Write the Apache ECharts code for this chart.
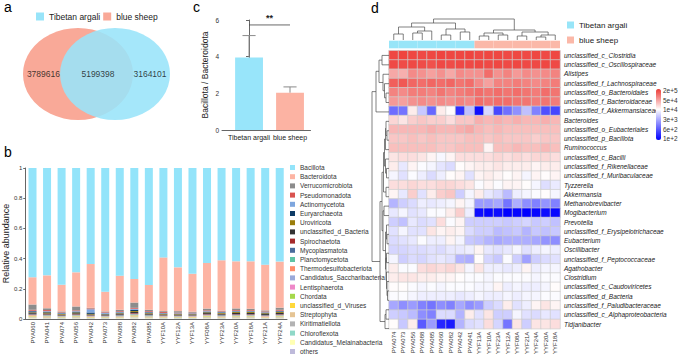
<!DOCTYPE html>
<html><head><meta charset="utf-8">
<script src="https://cdn.jsdelivr.net/npm/echarts@6/dist/echarts.min.js"></script>
<style>html,body{margin:0;padding:0;background:#fff}#c{width:682px;height:357px}</style>
</head><body><div id="c"></div>
<script>
const FONT = '"Liberation Sans", Arial, sans-serif';

// ---------- a: Venn ----------
const vennGroups = ['Tibetan argali', 'blue sheep'];
const vennColors = ['#98E4F9', '#F9A998'];
const vennCounts = [3789616, 5199398, 3164101]; // blue sheep only, shared, Tibetan argali only

// ---------- b: stacked relative abundance ----------
const samplesB = ['PYA060','PYA041','PYA074','PYA056','PYA042','PYA073','PYA088','PYA082','PYA085',
                  'YYF10A','YYF12A','YYF13A','YYF08A','YYF23A','YYF20A','YYF18A','YYF21A','YYF24A'];
const phyla = ['Bacillota','Bacteroidota','Verrucomicrobiota','Pseudomonadota','Actinomycetota','Euryarchaeota',
  'Uroviricota','unclassified_d_Bacteria','Spirochaetota','Mycoplasmatota','Planctomycetota','Thermodesulfobacteriota',
  'Candidatus_Saccharibacteria','Lentisphaerota','Chordata','unclassified_d_Viruses','Streptophyta','Kiritimatiellota',
  'Chloroflexota','Candidatus_Melainabacteria','others'];
const phylaColors = ['#93E4FA','#FDB4A3','#8C8C8C','#D9534F','#7EA6DE','#0D3B66','#9A7D0A','#333333','#A52A2A',
  '#4A6C9B','#5EC4A5','#FF8C69','#9AA9D9','#EE88C8','#A5D84B','#FFD83A','#E5C494','#B3B3B3','#8FD8C8','#FFFFB3','#BEBADA'];
const Bacillota        = [.724,.711,.773,.691,.636,.819,.713,.735,.775,.592,.658,.700,.629,.611,.618,.618,.640,.620];
const Bacteroidota     = [.180,.218,.177,.226,.290,.131,.226,.156,.164,.356,.290,.252,.302,.334,.312,.314,.303,.305];
const Verrucomicrobiota= [.035,.012,.006,.026,.004,.005,.009,.035,.008,.006,.010,.006,.012,.004,.011,.009,.007,.014];
const Pseudomonadota   = [.006,.007,.004,.005,.005,.004,.005,.006,.005,.006,.004,.004,.005,.004,.005,.005,.005,.006];
const Actinomycetota   = [.004,.004,.003,.004,.022,.006,.004,.007,.004,.003,.003,.003,.004,.003,.004,.004,.003,.004];
const Euryarchaeota    = [.006,.005,.004,.005,.009,.004,.005,.008,.005,.003,.003,.003,.004,.004,.004,.004,.004,.005];
const Uroviricota      = [.004,.006,.004,.005,.004,.003,.004,.006,.004,.004,.004,.003,.005,.005,.006,.006,.005,.006];
const unclassified_d_Bacteria = [.006,.006,.005,.006,.005,.004,.005,.007,.006,.005,.004,.004,.006,.006,.007,.007,.006,.007];
const Spirochaetota    = [.003,.003,.002,.003,.002,.002,.003,.004,.002,.002,.002,.002,.003,.003,.003,.003,.002,.003];
const Mycoplasmatota   = [.004,.003,.002,.003,.002,.002,.003,.004,.003,.002,.002,.002,.003,.003,.004,.004,.003,.004];
const Planctomycetota  = [.002,.002,.002,.002,.002,.002,.002,.002,.002,.002,.002,.002,.002,.002,.002,.002,.002,.002];
const Thermodesulfobacteriota = [.002,.002,.002,.002,.002,.002,.002,.002,.002,.002,.002,.002,.002,.002,.002,.002,.002,.002];
const Candidatus_Saccharibacteria = [.002,.002,.002,.002,.002,.002,.002,.002,.002,.002,.002,.002,.002,.002,.002,.002,.002,.002];
const Lentisphaerota   = [.001,.001,.001,.001,.001,.001,.001,.001,.001,.001,.001,.001,.001,.001,.001,.001,.001,.001];
const Chordata         = [.003,.002,.001,.002,.001,.001,.002,.003,.002,.001,.001,.001,.002,.002,.002,.002,.001,.002];
const unclassified_d_Viruses = [.002,.002,.001,.002,.002,.001,.002,.003,.002,.001,.001,.002,.002,.002,.002,.002,.002,.002];
const Streptophyta     = [.004,.005,.003,.004,.003,.003,.003,.005,.004,.004,.003,.003,.005,.003,.004,.004,.004,.004];
const Kiritimatiellota = [.003,.003,.002,.003,.002,.002,.002,.003,.002,.002,.002,.002,.003,.003,.003,.003,.002,.003];
const Chloroflexota    = [.001,.001,.001,.001,.001,.001,.001,.001,.001,.001,.001,.001,.001,.001,.001,.001,.001,.001];
const Candidatus_Melainabacteria = [.004,.002,.002,.003,.002,.002,.003,.006,.003,.002,.002,.002,.003,.002,.003,.003,.002,.003];
const others           = [.004,.003,.003,.004,.003,.003,.003,.004,.003,.003,.003,.003,.004,.003,.004,.004,.003,.004];
const phylumValues = [Bacillota,Bacteroidota,Verrucomicrobiota,Pseudomonadota,Actinomycetota,Euryarchaeota,Uroviricota,
  unclassified_d_Bacteria,Spirochaetota,Mycoplasmatota,Planctomycetota,Thermodesulfobacteriota,Candidatus_Saccharibacteria,
  Lentisphaerota,Chordata,unclassified_d_Viruses,Streptophyta,Kiritimatiellota,Chloroflexota,Candidatus_Melainabacteria,others];

// ---------- c: ratio ----------
const ratioGroups = ['Tibetan argali', 'blue sheep'];
const ratioColors = ['#98E5FA', '#FCB3A3'];
const ratioMean = [3.95, 2.03];
const ratioErr = [1.2, 0.32];
const sigText = '**';
const sigLevel = 5.73;

// ---------- d: heatmap ----------
const heatCols = ['PYA074','PYA073','PYA056','PYA088','PYA085','PYA060','PYA082','PYA042','PYA041',
                  'YYF13A','YYF10A','YYF23A','YYF12A','YYF08A','YYF21A','YYF24A','YYF20A','YYF18A'];
const colGroup = [0,0,0,0,0,0,0,0,0,1,1,1,1,1,1,1,1,1];
const annotColors = ['#98E5F8', '#FBB8A8'];
const heatRows = ['unclassified_c_Clostridia','unclassified_c_Oscillospiraceae','Alistipes','unclassified_f_Lachnospiraceae',
  'unclassified_o_Bacteroidales','unclassified_f_Bacteroidaceae','unclassified_f_Akkermansiaceae','Bacteroides',
  'unclassified_o_Eubacteriales','unclassified_p_Bacillota','Ruminococcus','unclassified_c_Bacilli',
  'unclassified_f_Rikenellaceae','unclassified_f_Muribaculaceae','Tyzzerella','Akkermansia','Methanobrevibacter',
  'Mogibacterium','Prevotella','unclassified_f_Erysipelotrichaceae','Eubacterium','Oscillibacter',
  'unclassified_f_Peptococcaceae','Agathobacter','Clostridium','unclassified_c_Caudoviricetes','unclassified_d_Bacteria',
  'unclassified_f_Paludibacteraceae','unclassified_c_Alphaproteobacteria','Tidjanibacter'];
// log10 abundance per row (columns in heatCols order)
const heatLog10 = [
 [5.22,5.24,5.22,5.2,5.22,5.24,5.22,5.22,5.24,5.2,5.22,5.22,5.2,5.22,5.2,5.22,5.2,5.22],
 [5.2,5.18,5.2,5.18,5.15,5.2,5.18,5.2,5.2,5.22,5.2,5.22,5.2,5.22,5.2,5.2,5.22,5.2],
 [4.55,4.5,4.75,4.7,4.6,4.7,4.55,4.75,4.7,4.7,4.95,4.7,4.8,4.65,4.75,4.7,4.75,4.8],
 [5.05,5.1,5.0,4.95,5.0,4.95,5.0,4.9,4.95,4.75,4.6,4.8,4.8,4.85,4.8,4.75,4.8,4.85],
 [4.8,4.75,4.85,4.85,4.8,4.9,4.8,4.85,4.9,4.95,4.9,4.95,4.9,4.95,4.9,4.85,4.95,4.9],
 [4.65,4.6,4.7,4.75,4.7,4.75,4.7,4.8,4.75,4.95,4.9,4.95,4.95,4.9,4.9,4.85,4.9,4.85],
 [2.85,2.9,4.1,3.55,2.8,4.1,4.0,2.37,3.5,2.12,3.68,2.56,2.87,3.12,3.49,3.0,2.62,2.54],
 [4.25,4.15,4.3,4.35,4.3,4.3,4.2,4.35,4.35,4.5,4.45,4.5,4.45,4.5,4.45,4.45,4.5,4.45],
 [4.45,4.45,4.45,4.45,4.5,4.45,4.45,4.5,4.55,4.45,4.4,4.45,4.4,4.4,4.4,4.4,4.4,4.4],
 [4.35,4.35,4.4,4.35,4.4,4.35,4.35,4.35,4.4,4.4,4.35,4.4,4.35,4.35,4.35,4.3,4.35,4.35],
 [4.4,4.4,4.4,4.4,4.4,4.35,4.35,4.4,4.4,4.4,4.05,4.4,4.4,4.45,4.4,4.4,4.45,4.4],
 [4.15,4.2,4.2,4.15,4.05,3.92,4.05,4.2,4.2,4.2,4.2,4.25,4.2,4.25,4.2,4.25,4.25,4.2],
 [4.1,3.8,4.05,3.95,3.9,3.78,3.7,4.0,4.05,4.1,4.1,4.15,4.1,4.1,4.1,4.05,4.1,4.1],
 [3.9,3.75,3.95,3.85,3.7,3.85,4.0,4.05,3.75,4.05,4.1,4.05,4.0,4.05,3.9,4.05,4.0,4.05],
 [4.2,4.2,4.25,4.2,4.2,4.25,4.25,4.2,4.15,3.95,4.05,3.95,4.05,4.05,4.0,3.9,3.72,3.82],
 [4.05,3.8,4.3,3.75,4.1,4.3,4.35,3.6,3.9,4.1,3.8,3.7,3.45,3.85,3.9,3.95,4.0,3.9],
 [3.4,3.6,3.7,3.85,3.8,3.85,3.9,4.05,3.9,3.2,3.2,3.3,2.9,3.35,3.1,3.0,3.15,3.0],
 [3.8,3.9,3.75,3.8,3.95,3.95,4.1,4.3,3.85,2.1,2.05,2.1,2.0,2.05,2.0,2.05,2.1,2.05],
 [3.6,3.5,3.8,3.7,3.75,4.2,3.95,4.05,3.6,3.6,3.6,3.6,3.55,3.6,3.65,3.55,3.6,3.5],
 [3.75,3.9,3.75,3.75,4.15,4.05,4.1,4.05,3.7,3.6,3.6,3.45,3.5,3.55,3.4,3.55,3.5,3.55],
 [3.7,3.75,3.8,3.95,3.85,3.85,4.05,3.9,3.55,3.5,3.4,3.3,3.35,3.35,3.35,3.3,3.15,3.1],
 [3.65,3.65,3.7,3.7,3.75,3.7,3.8,3.8,3.85,4.05,3.8,3.75,3.8,3.9,3.75,3.85,3.9,3.85],
 [3.9,3.6,3.7,3.65,3.75,3.8,3.75,3.4,3.35,4.0,3.65,3.55,3.95,3.6,3.25,3.6,3.7,3.75],
 [4.1,3.95,3.95,4.2,4.25,4.2,4.25,4.15,3.9,4.15,3.85,3.85,3.8,3.85,4.05,3.85,3.9,3.9],
 [4.1,4.15,4.15,4.1,4.1,4.05,4.05,4.0,3.95,3.95,3.9,3.95,3.95,3.95,3.95,3.9,3.95,3.95],
 [4.0,4.0,3.95,3.9,3.95,3.9,3.95,3.95,3.95,3.9,3.9,4.05,3.85,3.9,3.85,3.85,3.9,4.0],
 [3.95,3.95,3.9,3.85,3.85,3.85,3.85,3.8,3.85,3.9,3.85,3.85,3.9,3.85,3.9,3.9,3.95,3.95],
 [3.3,3.1,3.2,3.0,2.9,3.1,3.0,3.3,3.1,3.2,3.6,3.7,4.1,3.75,3.85,4.05,4.15,4.05],
 [3.6,3.55,3.45,3.1,3.0,3.7,3.7,3.4,4.1,3.75,4.15,3.6,3.6,3.9,3.75,3.7,3.8,3.75],
 [4.0,3.55,4.1,2.7,3.2,2.3,2.2,3.4,3.7,3.75,4.2,3.65,2.9,4.15,3.6,4.15,4.15,4.2]
];
const heatMin = 2, heatMax = 5.3;
const heatPalette = ['#0000FF','#5555FF','#AAAAFF','#FFFFFF','#F59A98','#EE3B36'];
const colorbarLabels = ['1e+2','6e+2','3e+3','1e+4','5e+4','2e+5'];
// hclust-style merges: negative = leaf (1-based), positive = earlier merge; third = height
const colMerge = [[-1,-2,6],[-3,-4,7],[2,-5,9],[1,3,13],[-6,-7,5],[-8,-9,8],[5,6,11],[4,7,17],
  [-10,-11,4],[-12,-13,5],[9,10,7],[-14,-15,4],[-16,-17,3],[13,-18,5],[12,14,8],[11,15,10],[8,16,21]];
const rowMerge = [[-1,-2,7],[-5,-6,3],[-4,2,4.5],[-3,3,6],[1,4,10],[5,-7,13],[-9,-10,2],[-8,7,3],[8,-11,3.5],
  [-13,-14,2.5],[-12,10,3.5],[9,11,4.5],[-15,-16,3],[12,13,5.5],[-17,-18,5],[-20,-21,2],[-19,16,2.5],[-22,-23,2.5],
  [-26,-27,1.5],[-25,19,2],[-24,20,2.5],[18,21,3],[17,22,3.5],[15,23,6],[14,24,7],[-28,-29,3],[26,-30,4],[25,27,9],[6,28,17]];

function dendroSegments(merge) {
  const pos = [], ht = [], segs = [];
  const get = v => v < 0 ? [(-v - 1) + 0.5, 0] : [pos[v - 1], ht[v - 1]];
  merge.forEach((m, i) => {
    const a = get(m[0]), b = get(m[1]);
    pos[i] = (a[0] + b[0]) / 2; ht[i] = m[2];
    segs.push([a[0], a[1], b[0], b[1], m[2]]);
  });
  return segs;
}

const chart = echarts.init(document.getElementById('c'), null, {renderer: 'svg', width: 682, height: 357});
const axisGrey = '#666';
const series = [];

// b series (bottom of stack first)
for (let k = phyla.length - 1; k >= 0; k--) {
  series.push({type: 'bar', name: phyla[k], stack: 'b', xAxisIndex: 0, yAxisIndex: 0, barWidth: 8,
    data: phylumValues[k], itemStyle: {color: phylaColors[k]}, emphasis: {disabled: true}});
}
// c bars + error bars
series.push({type: 'custom', name: 'ratio', xAxisIndex: 1, yAxisIndex: 1,
  data: ratioMean.map((m, i) => [i, m, ratioErr[i]]),
  renderItem: (p, api) => {
    const x = api.value(0), m = api.value(1), e = api.value(2);
    const base = api.coord([x, 0]), top = api.coord([x, m]), et = api.coord([x, m + e]);
    const w = api.size([0.68, 0])[0], cap = api.size([0.32, 0])[0];
    return {type: 'group', children: [
      {type: 'line', shape: {x1: top[0], y1: top[1], x2: et[0], y2: et[1]}, style: {stroke: '#8a8a8a', lineWidth: 1}},
      {type: 'line', shape: {x1: et[0] - cap / 2, y1: et[1], x2: et[0] + cap / 2, y2: et[1]}, style: {stroke: '#8a8a8a', lineWidth: 1}},
      {type: 'rect', shape: {x: base[0] - w / 2, y: top[1], width: w, height: base[1] - top[1]}, style: {fill: ratioColors[p.dataIndex]}}
    ]};
  }});
series.push({type: 'custom', name: 'sig', xAxisIndex: 1, yAxisIndex: 1, data: [[0, 1, sigLevel]],
  renderItem: (p, api) => {
    const a = api.coord([api.value(0), api.value(2)]), b = api.coord([api.value(1), api.value(2)]);
    return {type: 'group', children: [
      {type: 'line', shape: {x1: a[0], y1: a[1], x2: b[0], y2: b[1]}, style: {stroke: '#444', lineWidth: 0.8}},
      {type: 'text', style: {text: sigText, x: (a[0] + b[0]) / 2, y: a[1] - 2, textAlign: 'center', textVerticalAlign: 'bottom',
        fontSize: 9, fontWeight: 'bold', fill: '#222', fontFamily: FONT}}
    ]};
  }});
// a Venn ellipses
series.push({type: 'scatter', name: 'blue sheep', xAxisIndex: 2, yAxisIndex: 2, clip: false, data: [[0.374, 0.5]],
  symbol: 'circle', symbolSize: [110, 92], itemStyle: {color: vennColors[1], opacity: 1}, emphasis: {disabled: true}, silent: true});
series.push({type: 'scatter', name: 'Tibetan argali', xAxisIndex: 2, yAxisIndex: 2, clip: false, data: [[0.626, 0.5]],
  symbol: 'circle', symbolSize: [110, 92], itemStyle: {color: vennColors[0], opacity: 0.88}, emphasis: {disabled: true}, silent: true});
series.push({type: 'scatter', name: 'counts', xAxisIndex: 2, yAxisIndex: 2, clip: false, symbolSize: 0,
  data: [[0.139, 0.5, vennCounts[0]], [0.51, 0.5, vennCounts[1]], [0.864, 0.5, vennCounts[2]]],
  label: {show: true, position: 'inside', formatter: p => String(p.value[2]), fontSize: 8.5, color: '#111', fontFamily: FONT},
  silent: true});
// d heatmap
const heatIdx = series.length;
const heatData = [];
heatLog10.forEach((row, r) => row.forEach((v, c) => heatData.push([c, r, v])));
series.push({type: 'heatmap', xAxisIndex: 3, yAxisIndex: 3, data: heatData,
  itemStyle: {borderColor: '#cdcdcd', borderWidth: 0.7}, emphasis: {disabled: true}});
series.push({type: 'bar', name: 'group', xAxisIndex: 4, yAxisIndex: 4, barCategoryGap: 0, barWidth: '100%',
  data: colGroup.map(g => ({value: 1, itemStyle: {color: annotColors[g]}})), emphasis: {disabled: true}});
const dendroStyle = {stroke: '#4a4a4a', lineWidth: 0.7, fill: null};
series.push({type: 'custom', name: 'coldendro', xAxisIndex: 5, yAxisIndex: 5, data: dendroSegments(colMerge),
  renderItem: (p, api) => {
    const pa = api.value(0), ha = api.value(1), pb = api.value(2), hb = api.value(3), h = api.value(4);
    return {type: 'polyline', shape: {points: [api.coord([pa, ha]), api.coord([pa, h]), api.coord([pb, h]), api.coord([pb, hb])]}, style: dendroStyle};
  }});
series.push({type: 'custom', name: 'rowdendro', xAxisIndex: 6, yAxisIndex: 6, data: dendroSegments(rowMerge),
  renderItem: (p, api) => {
    const pa = api.value(0), ha = api.value(1), pb = api.value(2), hb = api.value(3), h = api.value(4);
    return {type: 'polyline', shape: {points: [api.coord([ha, pa]), api.coord([h, pa]), api.coord([h, pb]), api.coord([hb, pb])]}, style: dendroStyle};
  }});

const hidden = {show: false};
const option = {
  animation: false,
  textStyle: {fontFamily: FONT},
  title: [
    {text: 'a', left: 4, top: 0, padding: 0, textStyle: {fontSize: 14, fontWeight: 'normal', color: '#000'}},
    {text: 'b', left: 4, top: 145, padding: 0, textStyle: {fontSize: 14, fontWeight: 'normal', color: '#000'}},
    {text: 'c', left: 193, top: 0, padding: 0, textStyle: {fontSize: 14, fontWeight: 'normal', color: '#000'}},
    {text: 'd', left: 371, top: 1, padding: 0, textStyle: {fontSize: 14, fontWeight: 'normal', color: '#000'}}
  ],
  legend: [
    {data: vennGroups.map((g, i) => ({name: g, itemStyle: {color: vennColors[i], opacity: 1}})), left: 36, top: 12,
      itemWidth: 8, itemHeight: 8, itemGap: 3, icon: 'rect', selectedMode: false, padding: 0,
      textStyle: {fontSize: 8.5, color: '#222'}},
    {data: phyla, orient: 'vertical', left: 290, top: 164, height: 192, itemWidth: 5, itemHeight: 5, itemGap: 2.2, icon: 'rect',
      selectedMode: false, padding: 0, textStyle: {fontSize: 6.5, color: '#333'}},
    {data: vennGroups.map((g, i) => ({name: g, itemStyle: {color: annotColors[i], opacity: 1}})), orient: 'vertical',
      left: 567, top: 21, itemWidth: 7, itemHeight: 7, itemGap: 7, icon: 'rect', selectedMode: false, padding: 0,
      textStyle: {fontSize: 8, color: '#222'}}
  ],
  visualMap: {type: 'continuous', seriesIndex: heatIdx, min: heatMin, max: heatMax, left: 656, top: 89,
    itemWidth: 5, itemHeight: 51, padding: 0, calculable: false, inRange: {color: heatPalette}},
  grid: [
    {left: 22, top: 168, width: 265, height: 151},
    {left: 222, top: 20, width: 88.5, height: 110},
    {left: 23, top: 28, width: 147, height: 92},
    {left: 389, top: 50.7, width: 171, height: 282.6},
    {left: 389, top: 40.7, width: 171, height: 7.6},
    {left: 389, top: 19, width: 171, height: 21},
    {left: 372, top: 50.7, width: 17, height: 282.6},
    {left: 656, top: 90.7, width: 5, height: 48}
  ],
  xAxis: [
    {type: 'category', gridIndex: 0, data: samplesB, axisLine: {lineStyle: {color: axisGrey}},
      axisTick: {alignWithLabel: true, length: 2, lineStyle: {color: axisGrey}},
      axisLabel: {rotate: 90, interval: 0, fontSize: 6, margin: 3, color: '#333'}},
    {type: 'value', gridIndex: 1, min: -0.66, max: 1.5, splitLine: hidden, axisTick: hidden,
      axisLine: {show: true, lineStyle: {color: axisGrey}},
      axisLabel: {fontSize: 7, margin: 4, color: '#222', showMinLabel: false, showMaxLabel: false,
        formatter: v => (Math.abs(v - Math.round(v)) < 1e-6 && ratioGroups[Math.round(v)]) || ''}},
    {type: 'value', gridIndex: 2, min: 0, max: 1, show: false},
    {type: 'category', gridIndex: 3, data: heatCols, axisLine: hidden, axisTick: hidden,
      axisLabel: {rotate: 90, interval: 0, fontSize: 6, margin: 3, color: '#333'}},
    {type: 'category', gridIndex: 4, data: heatCols, show: false},
    {type: 'value', gridIndex: 5, min: 0, max: heatCols.length, show: false},
    {type: 'value', gridIndex: 6, min: 0, max: 17, inverse: true, show: false},
    {type: 'value', gridIndex: 7, min: 0, max: 1, show: false}
  ],
  yAxis: [
    {type: 'value', gridIndex: 0, min: 0, max: 1, interval: 0.2, splitLine: hidden,
      axisLine: {show: true, lineStyle: {color: axisGrey}}, axisTick: {show: true, length: 2, lineStyle: {color: axisGrey}},
      axisLabel: {fontSize: 6, margin: 3, color: '#333'},
      name: 'Relative abundance', nameLocation: 'middle', nameGap: 11, nameTextStyle: {fontSize: 9, color: '#222'}},
    {type: 'value', gridIndex: 1, min: 0, max: 6, interval: 2, splitLine: hidden,
      axisLine: {show: true, lineStyle: {color: axisGrey}}, axisTick: {show: true, length: 3, lineStyle: {color: axisGrey}},
      axisLabel: {fontSize: 6.5, margin: 3, color: '#333'},
      name: 'Bacillota / Bacteroidota', nameLocation: 'middle', nameGap: 13, nameTextStyle: {fontSize: 8.5, color: '#222'}},
    {type: 'value', gridIndex: 2, min: 0, max: 1, show: false},
    {type: 'category', gridIndex: 3, data: heatRows, inverse: true, position: 'right', axisLine: hidden, axisTick: hidden,
      axisLabel: {interval: 0, fontSize: 6.5, fontStyle: 'italic', margin: 4, color: '#222'}},
    {type: 'value', gridIndex: 4, min: 0, max: 1, show: false},
    {type: 'value', gridIndex: 5, min: 0, max: 21, show: false},
    {type: 'value', gridIndex: 6, min: 0, max: heatRows.length, inverse: true, show: false},
    {type: 'value', gridIndex: 7, min: 0, max: colorbarLabels.length - 1, interval: 1, position: 'right',
      splitLine: hidden, axisLine: hidden, axisTick: hidden,
      axisLabel: {fontSize: 6.5, margin: 2, color: '#333', formatter: v => colorbarLabels[v] || ''}}
  ],
  series: series
};
chart.setOption(option);
</script>
</body></html>
